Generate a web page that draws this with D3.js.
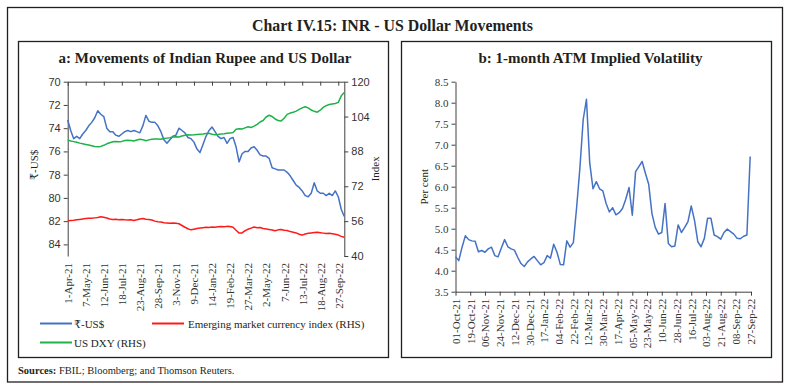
<!DOCTYPE html>
<html>
<head>
<meta charset="utf-8">
<script src="https://cdn.jsdelivr.net/npm/d3@7"></script>
<style>
    body { margin: 0; background: #fff; }
    svg text { font-family: "Liberation Serif", "DejaVu Serif", serif; fill: #231f20; }
    .axis path, .axis line { stroke: #404040; stroke-width: 1; }
    .axis text { font-size: 11px; fill: #333; }
    .sans text { font-family: "Liberation Sans", "DejaVu Sans", sans-serif; }
</style>
</head>
<body>
<svg id="chart" width="789" height="390"></svg>
<script>
// ---- panel a: Movements of Indian Rupee and US Dollar ----
const aTickLabels = ["1-Apr-21", "7-May-21", "12-Jun-21", "18-Jul-21", "23-Aug-21", "28-Sep-21", "3-Nov-21",
    "9-Dec-21", "14-Jan-22", "19-Feb-22", "27-Mar-22", "2-May-22", "7-Jun-22", "13-Jul-22", "18-Aug-22", "27-Sep-22"];
const pointsPerLabel = 6;

// ₹-US$ (LHS, reversed)
const inrUsd = [
    73.3, 74.2, 74.9, 74.7, 74.9, 74.5, 74.2, 73.8, 73.5, 73.1,
    72.5, 72.8, 73.0, 74.0, 74.3, 74.3, 74.6, 74.7, 74.5, 74.3,
    74.2, 74.3, 74.2, 74.3, 74.4, 73.8, 72.9, 73.4, 73.5, 73.5,
    73.8, 74.3, 75.0, 75.3, 75.0, 74.7, 74.6, 74.0, 74.2, 74.4,
    74.8, 74.9, 75.2, 75.8, 76.1, 75.4, 74.7, 74.2, 73.9, 74.3,
    74.7, 74.9, 74.8, 75.3, 74.9, 74.8, 75.6, 76.9, 76.2, 76.0,
    76.0, 75.7, 75.6, 75.9, 76.3, 76.4, 76.4, 76.6, 77.4, 77.5,
    77.6, 77.6, 77.6, 77.8, 78.1, 78.5, 78.9, 79.1, 79.4, 79.8,
    79.9, 79.6, 78.7, 79.4, 79.6, 79.6, 79.8, 79.6, 79.8, 79.4,
    79.9, 81.0, 81.6
];
// Emerging market currency index (RHS)
const emCurrencyIndex = [
    56.2, 56.3, 56.4, 56.6, 56.8, 57.0, 57.2, 57.3, 57.3, 57.5,
    57.7, 58.0, 57.8, 57.4, 57.0, 56.8, 56.9, 56.6, 56.8, 56.6,
    56.5, 56.6, 56.3, 56.6, 57.0, 57.2, 56.9, 56.8, 56.5, 56.0,
    55.7, 55.6, 55.3, 55.2, 55.0, 55.2, 55.0, 54.8, 54.0, 53.2,
    52.5, 52.0, 52.3, 52.6, 52.8, 53.0, 53.2, 53.1, 53.3, 53.2,
    53.4, 53.5, 53.4, 53.6, 53.5, 53.2, 51.8, 50.5, 50.6, 51.6,
    52.3, 52.8, 53.3, 53.0, 53.1, 52.6, 52.4, 52.2, 51.9, 51.6,
    52.0, 52.2, 51.8, 51.7, 51.2, 50.9, 50.6, 50.0, 49.6, 50.1,
    50.4, 50.6, 50.8, 50.9, 50.7, 50.5, 50.3, 50.4, 50.2, 50.0,
    49.6, 49.0, 48.6
];
// US DXY (RHS)
const usDxy = [
    93.2, 92.8, 92.5, 92.2, 91.8, 91.5, 91.2, 90.9, 90.6, 90.3,
    90.2, 90.3, 90.8, 91.5, 92.0, 92.4, 92.5, 92.4, 92.6, 93.0,
    93.1, 93.0, 92.8, 93.2, 93.6, 93.4, 92.9, 93.3, 93.6, 93.7,
    93.7, 93.6, 93.9, 94.1, 94.3, 94.6, 94.7, 94.6, 95.1, 95.4,
    95.6, 95.5, 95.6, 95.8, 95.9, 96.0, 96.2, 96.3, 95.9, 95.7,
    95.8, 96.0, 96.1, 96.3, 96.4, 96.7, 98.2, 98.4, 98.3, 98.8,
    99.3, 99.0, 99.6, 100.4, 101.5, 102.2, 103.8, 104.6, 104.0, 102.9,
    102.2, 102.0, 103.2, 105.0, 105.6, 106.0, 106.5, 107.3, 108.0, 108.5,
    108.0, 107.0, 106.4, 106.0, 106.9, 108.2, 109.0, 109.5, 109.8, 110.0,
    110.5, 113.5, 115.0
];
const aLeftTicks = [70, 72, 74, 76, 78, 80, 82, 84];
const aRightTicks = [40, 56, 72, 88, 104, 120];

// ---- panel b: 1-month ATM Implied Volatility ----
const bTickLabels = ["01-Oct-21", "19-Oct-21", "06-Nov-21", "24-Nov-21", "12-Dec-21", "30-Dec-21", "17-Jan-22",
    "04-Feb-22", "22-Feb-22", "12-Mar-22", "30-Mar-22", "17-Apr-22", "05-May-22", "23-May-22", "10-Jun-22",
    "28-Jun-22", "16-Jul-22", "03-Aug-22", "21-Aug-22", "08-Sep-22", "27-Sep-22"];
const bStartDate = "01-Oct-21";
const bStepDays = 4;
const impliedVol = [
    4.33, 4.24, 4.56, 4.83, 4.74, 4.71, 4.70, 4.45, 4.48, 4.44,
    4.52, 4.56, 4.36, 4.33, 4.54, 4.74, 4.57, 4.52, 4.49, 4.32,
    4.17, 4.10, 4.21, 4.28, 4.34, 4.24, 4.14, 4.19, 4.36, 4.30,
    4.63, 4.44, 4.15, 4.14, 4.71, 4.56, 4.67, 5.51, 6.45, 7.60,
    8.08, 6.56, 5.95, 6.12, 5.95, 5.90, 5.60, 5.40, 5.50, 5.33,
    5.38, 5.48, 5.70, 5.98, 5.32, 6.36, 6.48, 6.60, 6.32, 6.06,
    5.36, 5.03, 4.87, 4.91, 5.60, 4.65, 4.57, 4.59, 5.09, 4.91,
    5.03, 5.17, 5.54, 5.20, 4.69, 4.57, 4.77, 5.25, 5.25, 4.85,
    4.81, 4.75, 4.91, 4.99, 4.93, 4.87, 4.77, 4.76, 4.82, 4.85,
    6.72
];
const bTicks = [3.5, 4.0, 4.5, 5.0, 5.5, 6.0, 6.5, 7.0, 7.5, 8.0, 8.5];

const ink = "#231f20";
const svg = d3.select("#chart");

// frames
svg.append("rect")
    .attr("x", 7.5).attr("y", 7.5).attr("width", 775).attr("height", 374.5)
    .attr("fill", "none").attr("stroke", ink).attr("stroke-width", 1.3);
svg.append("rect")
    .attr("x", 18.5).attr("y", 41.5).attr("width", 370).attr("height", 316)
    .attr("fill", "none").attr("stroke", ink).attr("stroke-width", 1.3);
svg.append("rect")
    .attr("x", 401.5).attr("y", 41.5).attr("width", 370).attr("height", 316)
    .attr("fill", "none").attr("stroke", ink).attr("stroke-width", 1.3);

svg.append("text")
    .attr("x", 252).attr("y", 31)
    .attr("textLength", 281)
    .attr("lengthAdjust", "spacingAndGlyphs")
    .style("font-size", "17.5px")
    .style("font-weight", "bold")
    .text("Chart IV.15: INR - US Dollar Movements");

svg.append("text")
    .attr("x", 205).attr("y", 63)
    .attr("text-anchor", "middle")
    .style("font-size", "15px")
    .style("font-weight", "bold")
    .text("a: Movements of Indian Rupee and US Dollar");

svg.append("text")
    .attr("x", 590.5).attr("y", 63)
    .attr("text-anchor", "middle")
    .style("font-size", "15px")
    .style("font-weight", "bold")
    .text("b: 1-month ATM Implied Volatility");

// ---------------- panel a ----------------
const aTop = 81.7, aBottom = 256, aLeft = 67.7, aRight = 344.3;
const xA = d3.scaleLinear().domain([0, inrUsd.length - 1]).range([aLeft, aRight]);
const yLeft = d3.scaleLinear().domain([70, 85]).range([aTop, aBottom]);
const yRight = d3.scaleLinear().domain([40, 120]).range([aBottom, aTop]);
const aTickIdx = aTickLabels.map((d, i) => i * pointsPerLabel);

// category axis sits at the top (reversed LHS), ticks point down
svg.append("g")
    .attr("class", "axis")
    .attr("transform", `translate(0, ${aTop})`)
    .call(d3.axisBottom(xA).tickValues(aTickIdx).tickSize(4).tickSizeOuter(0).tickFormat(""));

// labels drawn low, below the plot
const aLabelAxis = svg.append("g")
    .attr("class", "axis")
    .attr("transform", `translate(0, ${aBottom})`)
    .call(d3.axisBottom(xA).tickValues(aTickIdx).tickSize(0).tickFormat((d, i) => aTickLabels[i]));
aLabelAxis.select(".domain").remove();
aLabelAxis.selectAll("text")
    .attr("transform", "rotate(-90)")
    .attr("x", -7).attr("y", 0).attr("dy", "0.35em")
    .attr("text-anchor", "end")
    .style("font-size", "11px");

svg.append("g")
    .attr("class", "axis sans")
    .attr("transform", `translate(${aLeft}, 0)`)
    .call(d3.axisLeft(yLeft).tickValues(aLeftTicks).tickSize(4).tickSizeOuter(0).tickPadding(3));

svg.append("g")
    .attr("class", "axis sans")
    .attr("transform", `translate(${aRight}, 0)`)
    .call(d3.axisRight(yRight).tickValues(aRightTicks).tickSize(4).tickSizeOuter(0).tickPadding(3));

svg.append("text")
    .attr("transform", `translate(38, ${(aTop + aBottom) / 2 - 4}) rotate(-90)`)
    .attr("text-anchor", "middle")
    .style("font-size", "11px")
    .text("₹-US$");
svg.append("text")
    .attr("transform", `translate(379, ${(aTop + aBottom) / 2}) rotate(-90)`)
    .attr("text-anchor", "middle")
    .style("font-size", "11px")
    .text("Index");

const seriesA = [
    { name: "₹-US$", values: inrUsd, scale: yLeft, color: "#4472c4" },
    { name: "Emerging market currency index (RHS)", values: emCurrencyIndex, scale: yRight, color: "#ff1a1a" },
    { name: "US DXY (RHS)", values: usDxy, scale: yRight, color: "#1db34a" }
];

seriesA.forEach(s => {
    svg.append("path")
        .datum(s.values)
        .attr("fill", "none")
        .attr("stroke", s.color)
        .attr("stroke-width", 1.5)
        .attr("stroke-linejoin", "round")
        .attr("d", d3.line().x((d, i) => xA(i)).y(d => s.scale(d)));
});

// legend
const legendPos = [[40, 323.5], [152, 323.5], [40, 342.5]];
seriesA.forEach((s, i) => {
    const [lx, ly] = legendPos[i];
    svg.append("line")
        .attr("x1", lx).attr("x2", lx + 32)
        .attr("y1", ly).attr("y2", ly)
        .attr("stroke", s.color).attr("stroke-width", 2);
    svg.append("text")
        .attr("x", lx + (i === 1 ? 36 : 34)).attr("y", ly + 4)
        .style("font-size", "11px")
        .text(s.name);
});

const sources = svg.append("text")
    .attr("x", 18).attr("y", 374)
    .style("font-size", "10.5px");
sources.append("tspan").style("font-weight", "bold").text("Sources:");
sources.append("tspan").text(" FBIL; Bloomberg; and Thomson Reuters.");

// ---------------- panel b ----------------
const parseDay = d3.timeParse("%d-%b-%y");
const bTop = 81.7, bBottom = 291.7, bLeft = 455.5, bRight = 751;
const bDates = bTickLabels.map(parseDay);
const xB = d3.scaleTime().domain([bDates[0], bDates[bDates.length - 1]]).range([bLeft, bRight]);
const yB = d3.scaleLinear().domain([3.5, 8.5]).range([bBottom, bTop]);
const bStart = parseDay(bStartDate);

const bxAxis = svg.append("g")
    .attr("class", "axis")
    .attr("transform", `translate(0, ${bBottom})`)
    .call(d3.axisBottom(xB).tickValues(bDates).tickSize(4).tickSizeOuter(0).tickFormat((d, i) => bTickLabels[i]));
bxAxis.selectAll("text")
    .attr("transform", "rotate(-90)")
    .attr("x", -7).attr("y", 0).attr("dy", "0.35em")
    .attr("text-anchor", "end")
    .style("font-size", "11px");

svg.append("g")
    .attr("class", "axis")
    .attr("transform", `translate(${bLeft}, 0)`)
    .call(d3.axisLeft(yB).tickValues(bTicks).tickSize(4).tickSizeOuter(0).tickPadding(3).tickFormat(d3.format(".1f")));

svg.append("text")
    .attr("transform", `translate(428, ${(bTop + bBottom) / 2}) rotate(-90)`)
    .attr("text-anchor", "middle")
    .style("font-size", "11px")
    .text("Per cent");

svg.append("path")
    .datum(impliedVol)
    .attr("fill", "none")
    .attr("stroke", "#4472c4")
    .attr("stroke-width", 1.5)
    .attr("stroke-linejoin", "round")
    .attr("d", d3.line()
        .x((d, i) => xB(d3.timeDay.offset(bStart, i * bStepDays)))
        .y(d => yB(d)));
</script>
</body>
</html>
